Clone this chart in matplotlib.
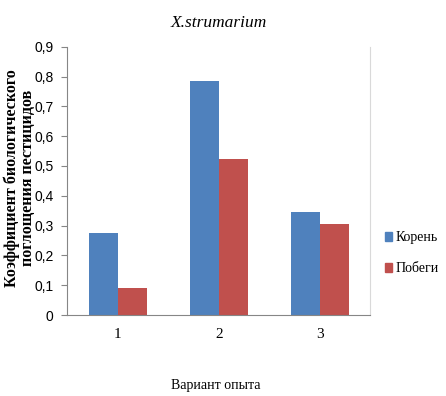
import numpy as np
import matplotlib
matplotlib.use("Agg")
import matplotlib.pyplot as plt
from matplotlib.ticker import FuncFormatter
from matplotlib.patches import Patch

categories = ["1", "2", "3"]
koren = [0.275, 0.785, 0.345]   # Корень
pobegi = [0.09, 0.525, 0.305]   # Побеги
series_names = ["Корень", "Побеги"]
colors = ["#4F81BD", "#C0504D"]

serif = ["Liberation Serif", "DejaVu Serif"]
narrow = ["Liberation Sans Narrow", "Liberation Sans", "DejaVu Sans"]

fig = plt.figure(figsize=(4.46, 3.96), dpi=100)
ax = fig.add_axes([0.151, 0.2045, 0.679, 0.6775])

x = np.arange(len(categories))
w = 0.288
ax.bar(x - w / 2, koren, w, color=colors[0])
ax.bar(x + w / 2, pobegi, w, color=colors[1])

ax.set_xlim(-0.5, 2.5)
ax.set_ylim(0, 0.9)
ax.set_yticks(np.arange(0, 0.91, 0.1))
ax.yaxis.set_major_formatter(FuncFormatter(lambda v, p: "0" if v == 0 else f"{v:.1f}".replace(".", ",")))
ax.set_xticks(x)
ax.set_xticklabels(categories, family=serif, fontsize=11)
ax.tick_params(axis="x", length=0, pad=9)
ax.tick_params(axis="y", length=4, width=0.8, color="#868686", pad=6, labelsize=10)
for lab in ax.get_yticklabels():
    lab.set_family(narrow)

ax.spines["top"].set_visible(False)
ax.spines["left"].set_color("#868686")
ax.spines["bottom"].set_color("#868686")
ax.spines["right"].set_color("#d9d9d9")

ax.set_title("X.strumarium", family=serif, style="italic", fontsize=12.5, pad=14)
ax.set_xlabel("Вариант опыта", family=serif, fontsize=10)
ax.xaxis.set_label_coords(0.49, -0.24)
ax.set_ylabel("Коэффициент биологического\nпоглощения пестицидов", family=serif,
              fontweight="bold", fontsize=11.5, linespacing=1.0)
ax.yaxis.set_label_coords(-0.104, 0.51)

handles = [Patch(color=c) for c in colors]
fig.legend(handles, series_names, loc="center left", bbox_to_anchor=(0.864, 0.36),
           frameon=False, prop={"family": serif, "size": 10}, handlelength=0.5,
           handleheight=0.6, handletextpad=0.2, labelspacing=1.3, borderpad=0,
           borderaxespad=0)

fig.savefig("out.png", dpi=100)
